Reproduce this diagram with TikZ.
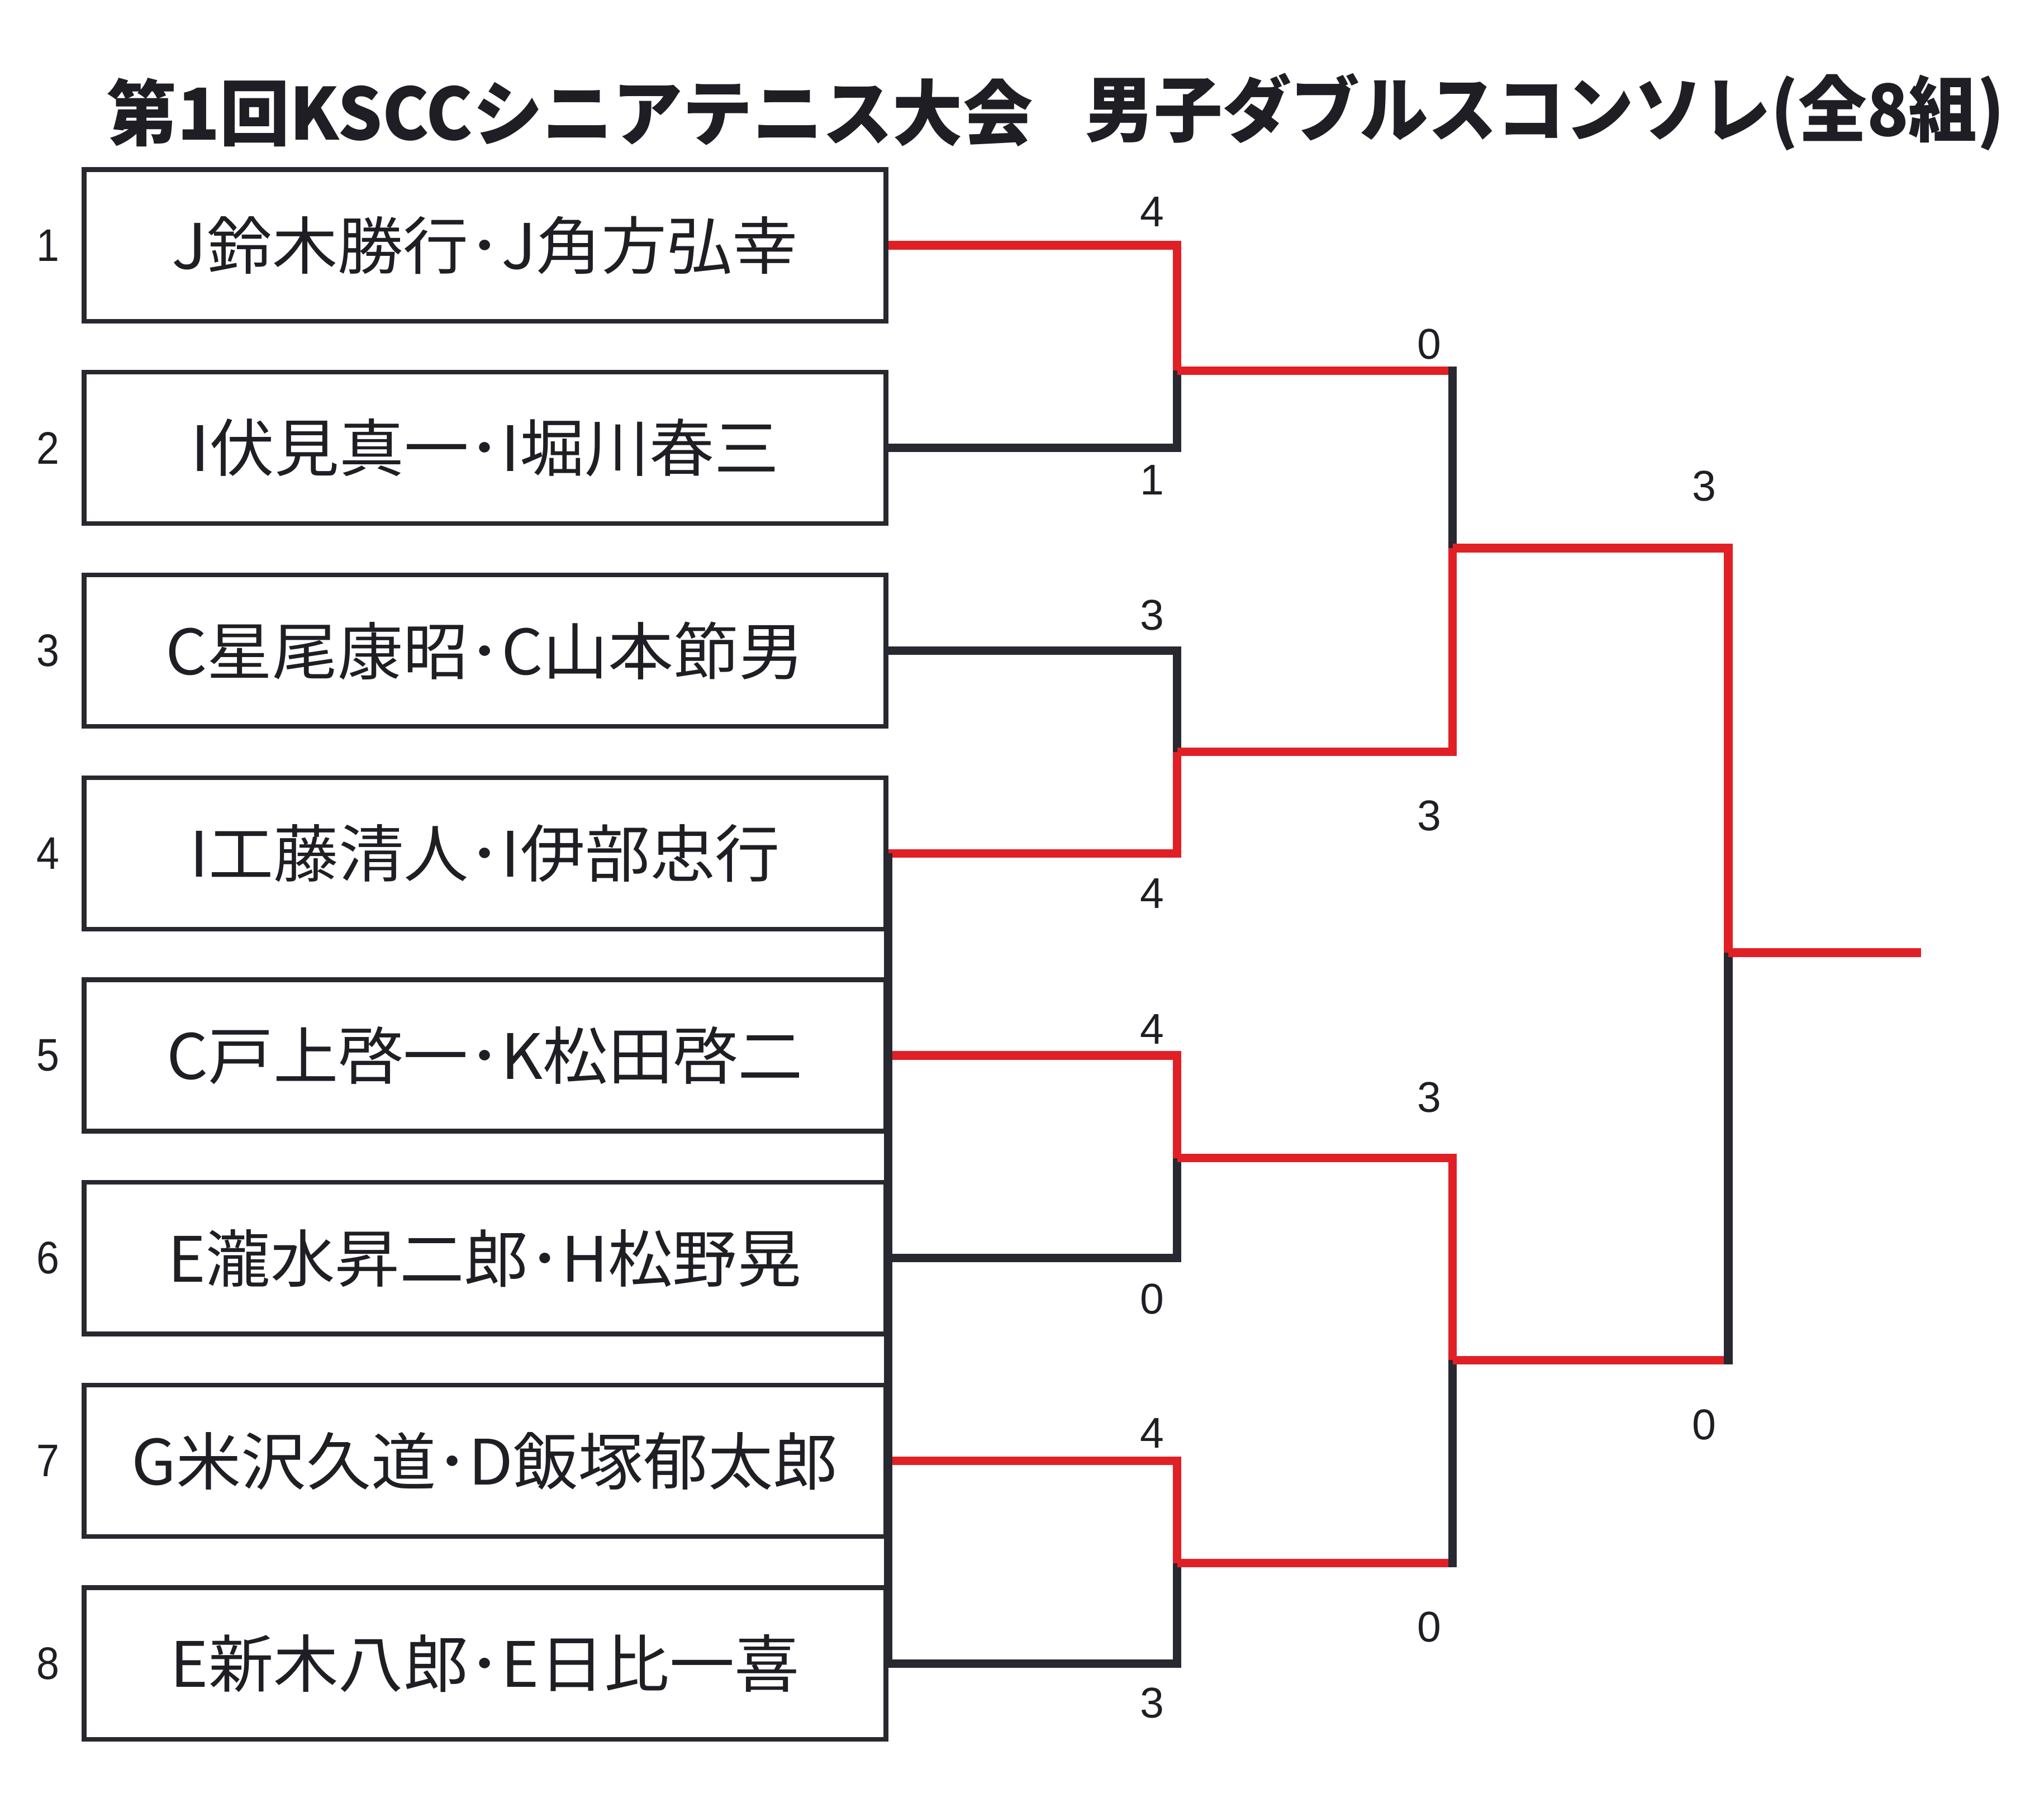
\documentclass[tikz,border=0pt]{standalone}
\usepackage{fontspec}
\usepackage{graphicx}
\setmainfont{Liberation Sans}
\newfontfamily\jp{Noto Sans CJK JP}
\definecolor{redl}{RGB}{225,32,38}
\definecolor{blkl}{RGB}{40,40,48}
\definecolor{txt}{RGB}{30,30,36}
\newcommand{\fitw}[2]{\resizebox{#1pt}{\height}{#2}}
\begin{document}
\begin{tikzpicture}[x=1pt,y=-1pt,
  box/.style={draw=blkl, line width=3.6pt, minimum width=615.1pt, minimum height=116.3pt, inner sep=0pt, text=txt, font=\jp\fontsize{48}{48}\selectfont},
  rl/.style={draw=redl, line width=6.6pt},
  bl/.style={draw=blkl, line width=6.6pt},
  sc/.style={font=\fontsize{33}{33}\selectfont, text=txt, inner sep=0pt},
  num/.style={font=\fontsize{35}{35}\selectfont, text=txt, inner sep=0pt},
  ttl/.style={font=\jp\bfseries\fontsize{55}{55}\selectfont, text=txt, inner sep=0pt}]
\useasboundingbox (0,0) rectangle (1568,1379);
\fill[white] (0,0) rectangle (1568,1379);
% title
\node[ttl, anchor=west] (t1) at (82,86) {\fitw{710}{第1回KSCCシニアテニス大会}};
\node[ttl, anchor=east] (t2) at (1538,86) {\fitw{705}{男子ダブルスコンソレ(全8組)}};
% boxes
\node[box] (b1) at (372,188.2) {\fitw{480}{J鈴木勝行･J角方弘幸}};
\node[box] (b2) at (372,343.6) {\fitw{451}{I伏見真一･I堀川春三}};
\node[box] (b3) at (372,499.2) {\fitw{490}{C星尾康昭･C山本節男}};
\node[box] (b4) at (372,654.7) {\fitw{453}{I工藤清人･I伊部忠行}};
\node[box] (b5) at (372,809.7) {\fitw{488}{C戸上啓一･K松田啓二}};
\node[box] (b6) at (372,965.2) {\fitw{486}{E瀧水昇二郎･H松野晃}};
\node[box] (b7) at (372,1120.7) {\fitw{542}{G米沢久道･D飯塚郁太郎}};
\node[box] (b8) at (372,1276.2) {\fitw{483}{E新木八郎･E日比一喜}};
% seed numbers
\foreach \i/\y in {1/188.2,2/343.6,3/499.2,4/654.7,5/809.7,6/965.2,7/1120.7,8/1276.2}
  \node[num] (n\i) at (37,\y) {\scalebox{0.9}[1]{\i}};
% junctions
\coordinate (r1a) at (903,284.4);
\coordinate (r1b) at (903,576.8);
\coordinate (r1c) at (903,888.4);
\coordinate (r1d) at (903,1199.2);
\coordinate (r2a) at (1114.3,420.5);
\coordinate (r2b) at (1114.3,1043.5);
\coordinate (r3) at (1325.8,730.8);
\coordinate (fin) at (1473.5,730.8);
% round 1
\draw[bl] (b2.east) -| (r1a);
\draw[rl] (b1.east) -| (r1a);
\draw[bl] (b3.east) -| (r1b);
\draw[rl] (b4.east) -| (r1b);
\draw[bl] (b6.east) -| (r1c);
\draw[rl] (b5.east) -| (r1c);
\draw[bl] (b8.east) -| (r1d);
\draw[rl] (b7.east) -| (r1d);
% round 2
\draw[rl] (r1a) -- (r1a -| r2a);
\draw[bl, shorten <=-3.3pt] (r1a -| r2a) -- (r2a);
\draw[rl] (r1b) -| (r2a);
\draw[rl] (r1c) -| (r2b);
\draw[rl] (r1d) -- (r1d -| r2b);
\draw[bl, shorten <=-3.3pt] (r1d -| r2b) -- (r2b);
% round 3
\draw[rl] (r2a) -| (r3);
\draw[rl] (r2b) -- (r2b -| r3);
\draw[bl, shorten <=-3.3pt] (r2b -| r3) -- (r3);
\draw[rl] (r3) -- (fin);
% thick edge line
\draw[bl, line cap=square] (b4.east) -- (b8.east);
% scores
\node[sc] (s1) at (884,162.5) {4};
\node[sc] (s2) at (884,368) {1};
\node[sc] (s3) at (884,472) {3};
\node[sc] (s4) at (884,685.6) {4};
\node[sc] (s5) at (884,789.4) {4};
\node[sc] (s6) at (884,996.4) {0};
\node[sc] (s7) at (884,1099.6) {4};
\node[sc] (s8) at (884,1306.6) {3};
\node[sc] (s9) at (1096.5,264) {0};
\node[sc] (s10) at (1096.5,626) {3};
\node[sc] (s11) at (1096.5,841.7) {3};
\node[sc] (s12) at (1096.5,1248) {0};
\node[sc] (s13) at (1307.5,373) {3};
\node[sc] (s14) at (1307.5,1093) {0};
\end{tikzpicture}
\end{document}
